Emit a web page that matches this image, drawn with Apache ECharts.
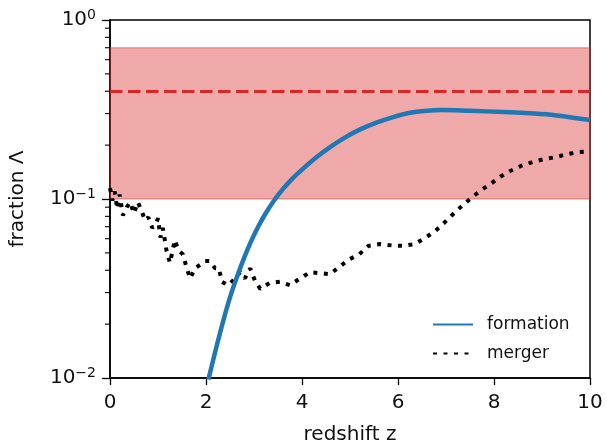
<!DOCTYPE html>
<html>
<head>
<meta charset="utf-8">
<script src="https://cdn.jsdelivr.net/npm/echarts@6/dist/echarts.min.js"></script>
<style>
    html, body { margin: 0; padding: 0; background: #fff; }
</style>
</head>
<body>
<div id="chart" style="width:607px;height:445px;"></div>
<script type="text/javascript">
    // formation curve (redshift, fraction)
    var formationZ   = [2.05, 2.2, 2.35, 2.5, 2.65, 2.8, 2.95, 3.1, 3.25, 3.4, 3.6, 3.8, 4.0, 4.3, 4.6, 4.9, 5.2, 5.55, 5.9, 6.25, 6.6, 6.9, 7.5, 8.2, 8.75, 9.3, 10];
    var formationVal = [0.0098, 0.0143, 0.0204, 0.0282, 0.037, 0.0473, 0.0589, 0.0711, 0.0838, 0.0966, 0.1135, 0.130, 0.146, 0.171, 0.196, 0.221, 0.244, 0.267, 0.287, 0.303, 0.311, 0.314, 0.311, 0.306, 0.301, 0.293, 0.276];

    // merger curve
    var mergerZ   = [0, 0.05, 0.1, 0.15, 0.2, 0.27, 0.35, 0.42, 0.5, 0.58, 0.65, 0.73, 0.8, 0.88, 0.95, 1.0, 1.05, 1.1, 1.18, 1.25, 1.35, 1.42, 1.52, 1.6, 1.67, 1.77, 1.88, 1.98, 2.08, 2.19, 2.27, 2.33, 2.46, 2.56, 2.71, 2.81, 2.92, 3.02, 3.13, 3.33, 3.54, 3.75, 3.96, 4.17, 4.38, 4.58, 4.79, 4.98, 5.19, 5.38, 5.63, 5.88, 6.1, 6.35, 6.58, 6.77, 6.96, 7.15, 7.33, 7.52, 7.71, 7.92, 8.13, 8.33, 8.56, 8.81, 9.04, 9.27, 9.52, 9.77, 10];
    var mergerVal = [0.115, 0.098, 0.11, 0.088, 0.106, 0.081, 0.09, 0.096, 0.083, 0.096, 0.087, 0.076, 0.079, 0.069, 0.072, 0.078, 0.061, 0.069, 0.051, 0.044, 0.059, 0.052, 0.049, 0.041, 0.036, 0.041, 0.043, 0.045, 0.045, 0.041, 0.041, 0.0345, 0.033, 0.035, 0.039, 0.036, 0.041, 0.035, 0.0315, 0.034, 0.0345, 0.033, 0.036, 0.039, 0.0385, 0.038, 0.042, 0.046, 0.049, 0.0547, 0.056, 0.055, 0.0547, 0.056, 0.061, 0.066, 0.0735, 0.0825, 0.0914, 0.101, 0.111, 0.121, 0.133, 0.143, 0.153, 0.161, 0.167, 0.171, 0.178, 0.183, 0.185];

    // shaded band and reference line
    var bandRange = [0.1, 0.7];
    var refLevel = 0.4;

    // axes
    var xTicks = [0, 2, 4, 6, 8, 10];
    var yTickExp = ['\u22122', '\u22121', '0'];
    var yMinorTicks = [0.02, 0.03, 0.04, 0.05, 0.06, 0.07, 0.08, 0.09, 0.2, 0.3, 0.4, 0.5, 0.6, 0.7, 0.8, 0.9];

    function zip(a, b) {
        var out = [];
        for (var i = 0; i < a.length; i++) out.push([a[i], b[i]]);
        return out;
    }

    var font = 'DejaVu Sans';
    var ink = '#111';
    var myChart = echarts.init(document.getElementById('chart'), null, {renderer: 'canvas'});

    var option = {
        animation: false,
        backgroundColor: '#fff',
        textStyle: {fontFamily: font},
        grid: {
            left: 110, right: 17, top: 20, bottom: 67,
            containLabel: false, outerBoundsMode: 'none',
            show: true, borderColor: '#000', borderWidth: 1.5, backgroundColor: 'transparent'
        },
        legend: {
            data: ['formation', 'merger'],
            orient: 'vertical',
            left: 427, top: 311,
            itemWidth: 40, itemHeight: 8, itemGap: 12,
            itemStyle: {opacity: 0},
            textStyle: {fontFamily: font, fontSize: 17, color: ink, padding: [0, 0, 0, 9]}
        },
        xAxis: {
            type: 'value',
            min: xTicks[0], max: xTicks[xTicks.length - 1], interval: 2,
            name: 'redshift z', nameLocation: 'middle', nameGap: 47,
            nameTextStyle: {fontFamily: font, fontSize: 20, color: ink},
            axisLine: {show: true, lineStyle: {color: '#000', width: 1.5}},
            axisTick: {show: true, length: 7, lineStyle: {color: '#000', width: 1.3}},
            axisLabel: {fontFamily: font, fontSize: 20, color: ink, margin: 15},
            splitLine: {show: false}
        },
        yAxis: {
            type: 'log', logBase: 10,
            min: 0.01, max: 1,
            name: 'fraction \u039B', nameLocation: 'middle', nameGap: 82,
            nameTextStyle: {fontFamily: font, fontSize: 20, color: ink},
            axisLine: {show: true, lineStyle: {color: '#000', width: 1.5}},
            axisTick: {show: true, length: 8, lineStyle: {color: '#000', width: 1.3}},
            axisLabel: {
                fontFamily: font, fontSize: 20, color: ink, margin: 14,
                formatter: function (v) {
                    var e = Math.round(Math.log(v) / Math.LN10);
                    return '{b|10}{s|' + yTickExp[e + 2] + '}';
                },
                rich: {
                    b: {fontFamily: font, fontSize: 20, color: ink, lineHeight: 24, verticalAlign: 'middle'},
                    s: {fontFamily: font, fontSize: 14, color: ink, lineHeight: 10, verticalAlign: 'top'}
                }
            },
            splitLine: {show: false}
        },
        series: [
            {
                name: 'band',
                type: 'line',
                data: [],
                markArea: {
                    silent: true,
                    itemStyle: {color: 'rgba(214,39,40,0.4)', borderColor: 'rgba(214,39,40,0.35)', borderWidth: 1.5},
                    data: [[{yAxis: bandRange[0]}, {yAxis: bandRange[1]}]]
                },
                markLine: {
                    silent: true,
                    symbol: 'none',
                    label: {show: false},
                    lineStyle: {color: '#d62728', width: 3, type: [12.5, 5.5]},
                    data: [{yAxis: refLevel}]
                }
            },
            {
                name: 'formation',
                type: 'line',
                data: zip(formationZ, formationVal),
                smooth: 0.4,
                symbol: 'none',
                color: '#1f77b4',
                lineStyle: {color: '#1f77b4', width: 4.5},
                z: 4
            },
            {
                name: 'merger',
                type: 'line',
                data: zip(mergerZ, mergerVal),
                symbol: 'none',
                color: '#000',
                lineStyle: {color: '#000', width: 4, type: [4, 6.5]},
                z: 3
            },
            {
                name: 'minorTicks',
                type: 'custom',
                silent: true,
                clip: false,
                data: yMinorTicks,
                encode: {y: 0},
                renderItem: function (params, api) {
                    var p = api.coord([0, api.value(0)]);
                    return {
                        type: 'line',
                        shape: {x1: p[0] - 5, y1: p[1], x2: p[0], y2: p[1]},
                        style: {stroke: '#000', lineWidth: 1.1}
                    };
                }
            }
        ]
    };

    myChart.setOption(option);
</script>
</body>
</html>
